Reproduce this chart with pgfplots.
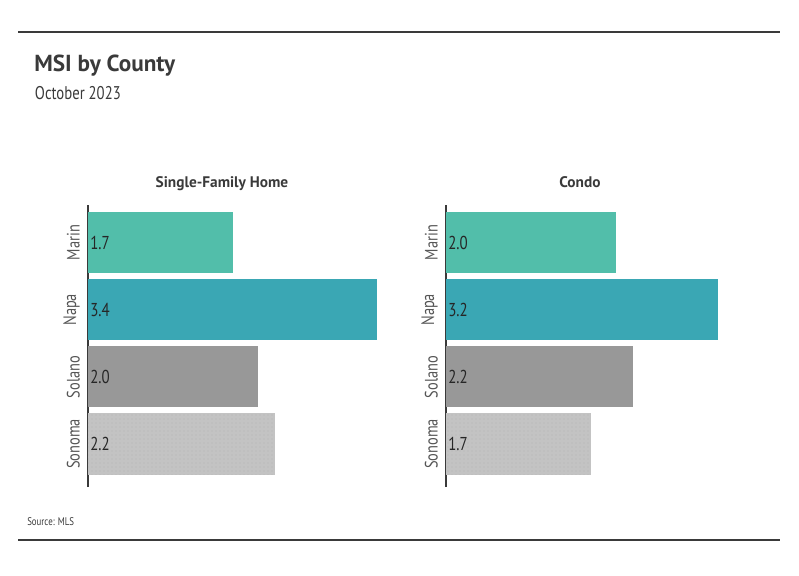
\documentclass[border=0pt]{standalone}
\usepackage{pgfplots}
\pgfplotsset{compat=1.18}
\usetikzlibrary{patterns}
\usepackage{fontspec}
\setmainfont{PT Sans}
\newfontfamily\narrow{PT Sans}[FakeStretch=0.8]

\definecolor{marin}{HTML}{52BEAA}
\definecolor{napa}{HTML}{3AA7B4}
\definecolor{solano}{HTML}{989898}
\definecolor{sonoma}{HTML}{C3C3C3}
\definecolor{ink}{HTML}{3A3A3A}
\definecolor{lbl}{HTML}{555555}

\pgfplotsset{
  msipanel/.style={
    scale only axis,
    width=223.125pt, height=211.5pt,
    xmin=0, xmax=3.5,
    ymin=-0.64, ymax=3.56,
    axis x line=none,
    axis y line=left,
    axis line style={draw=ink, line width=1.4pt, -},
    ytick={0,1,2,3},
    yticklabels={Sonoma,Solano,Napa,Marin},
    major tick length=0pt,
    yticklabel style={rotate=90, anchor=south, inner sep=0pt, inner ysep=6pt,
      font=\narrow\fontsize{13.5}{15}\selectfont, text=lbl},
    bar width=0.91,
    bar shift=0pt,
    clip=false,
  },
  vlabels/.style={draw=none, mark=none, nodes near coords,
    point meta=explicit symbolic,
    every node near coord/.style={anchor=west, inner sep=1.5pt,
      font=\narrow\fontsize{14}{16}\selectfont, text=black!85}},
}

\begin{document}
\begin{tikzpicture}
\path[use as bounding box] (0,0) rectangle (599.25pt,431.25pt);
\draw[ink, line width=0.8pt] (13.5pt,407.25pt) -- (585pt,407.25pt);
\draw[ink, line width=0.8pt] (13.5pt,26.25pt) -- (585pt,26.25pt);
\node[anchor=base west, inner sep=0pt, text=ink, font=\bfseries\fontsize{17.4}{19}\selectfont] at (25.5pt,377.5pt) {MSI by County};
\node[anchor=base west, inner sep=0pt, text=ink, font=\narrow\fontsize{13.8}{15}\selectfont] at (26pt,356.5pt) {October 2023};
\node[anchor=base west, inner sep=0pt, text=ink, font=\narrow\fontsize{8.3}{9}\selectfont] at (20.25pt,37.5pt) {Source: MLS};
\node[anchor=base, inner sep=0pt, text=ink, font=\bfseries\fontsize{11.5}{13}\selectfont] at (166.5pt,290.25pt) {Single-Family Home};
\node[anchor=base, inner sep=0pt, text=ink, font=\bfseries\fontsize{11.5}{13}\selectfont] at (435pt,290.25pt) {Condo};

% Single-Family Home
\begin{axis}[msipanel, at={(66pt,66pt)}, anchor=south west]
\addplot[xbar, fill=marin, draw=none] coordinates {(1.7,3)};
\addplot[xbar, fill=napa, draw=none] coordinates {(3.4,2)};
\addplot[xbar, fill=solano, draw=none] coordinates {(2.0,1)};
\addplot[xbar, fill=sonoma, draw=none, postaction={pattern=dots, pattern color=black!30}] coordinates {(2.2,0)};
\addplot[vlabels] coordinates {(0,3) [1.7] (0,2) [3.4] (0,1) [2.0] (0,0) [2.2]};
\end{axis}

% Condo
\begin{axis}[msipanel, at={(334.5pt,66pt)}, anchor=south west]
\addplot[xbar, fill=marin, draw=none] coordinates {(2.0,3)};
\addplot[xbar, fill=napa, draw=none] coordinates {(3.2,2)};
\addplot[xbar, fill=solano, draw=none] coordinates {(2.2,1)};
\addplot[xbar, fill=sonoma, draw=none, postaction={pattern=dots, pattern color=black!30}] coordinates {(1.7,0)};
\addplot[vlabels] coordinates {(0,3) [2.0] (0,2) [3.2] (0,1) [2.2] (0,0) [1.7]};
\end{axis}
\end{tikzpicture}
\end{document}
